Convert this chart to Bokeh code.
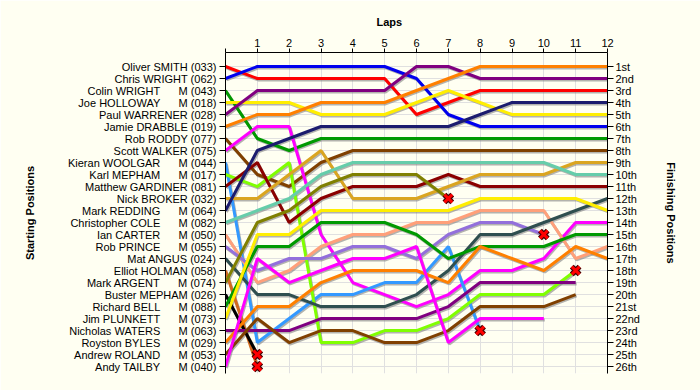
from bokeh.plotting import figure
from bokeh.models import FixedTicker, LinearAxis, Range1d, Title
from bokeh.embed import file_html
from bokeh.resources import INLINE

# ---------------- data ----------------
names = ["Oliver SMITH", "Chris WRIGHT", "Colin WRIGHT", "Joe HOLLOWAY", "Paul WARRENER",
         "Jamie DRABBLE", "Rob RODDY", "Scott WALKER", "Kieran WOOLGAR", "Karl MEPHAM",
         "Matthew GARDINER", "Nick BROKER", "Mark REDDING", "Christopher COLE", "Ian CARTER",
         "Rob PRINCE", "Mat ANGUS", "Elliot HOLMAN", "Mark ARGENT", "Buster MEPHAM",
         "Richard BELL", "Jim PLUNKETT", "Nicholas WATERS", "Royston BYLES", "Andrew ROLAND",
         "Andy TAILBY"]
car_numbers = ["033", "062", "043", "018", "028", "019", "077", "075", "044", "017",
               "081", "032", "064", "082", "050", "055", "024", "058", "074", "026",
               "088", "073", "063", "029", "053", "040"]
m_class = [False, False, True, True, False, False, False, False, True, True,
           False, False, True, True, True, True, False, False, True, False,
           True, True, True, True, True, True]

# position of each driver at lap 0, 1, 2, ... (last value = last lap completed / retirement)
positions = [
    [1, 2, 2, 2, 2, 2, 5, 4, 3, 3, 3, 3, 3],
    [2, 1, 1, 1, 1, 1, 2, 5, 6, 6, 6, 6, 6],
    [3, 7, 8, 7, 7, 7, 7, 7, 7, 7, 7, 7, 7],
    [4, 4, 4, 5, 5, 5, 4, 3, 4, 5, 5, 5, 5],
    [5, 3, 3, 3, 3, 3, 1, 1, 2, 2, 2, 2, 2],
    [6, 5, 5, 4, 4, 4, 3, 2, 1, 1, 1, 1, 1],
    [7, 10, 11, 9, 8, 8, 8, 8, 8, 8, 8, 8, 8],
    [8, 6, 6, 15, 19, 20, 21, 20, 18, 18, 17, 14, 14],
    [9, 24, 22, 20, 20, 19, 19, 16, 23],
    [10, 11, 9, 24, 24, 23, 23, 22, 20, 20, 20, 18],
    [11, 9, 14, 12, 11, 11, 11, 10, 11, 11, 11, 11, 11],
    [12, 12, 10, 8, 12, 12, 12, 11, 10, 10, 10, 9, 9],
    [13, 8, 7, 6, 6, 6, 6, 6, 5, 4, 4, 4, 4],
    [14, 13, 12, 10, 9, 9, 9, 9, 9, 9, 9, 10, 10],
    [15, 19, 18, 16, 15, 15, 14, 14, 13, 13, 13, 17, 16],
    [16, 18, 17, 17, 16, 16, 17, 15, 14, 14, 15],
    [17, 20, 20, 21, 21, 21, 20, 18, 15, 15, 14, 13, 12],
    [18, 26],
    [19, 14, 13, 11, 10, 10, 10, 12],
    [20, 25],
    [21, 16, 16, 14, 14, 14, 15, 17, 16, 16, 16, 15, 15],
    [22, 15, 15, 13, 13, 13, 13, 13, 12, 12, 12, 12, 13],
    [23, 23, 23, 22, 22, 22, 22, 21, 19, 19, 19, 19],
    [24, 21, 21, 19, 18, 18, 18, 19, 16, 17, 18, 16, 17],
    [25, 22, 24, 23, 23, 24, 24, 23, 21, 21, 21, 20],
    [26, 17, 19, 18, 17, 17, 16, 24, 22, 22, 22],
]
retired = [False, False, False, False, False, False, False, False, True, True,
           False, False, False, False, False, True, False, True, True, True,
           False, False, False, False, False, False]

colors = ["#FF0000", "#0000EE", "#009900", "#FFEE00", "#800080", "#FF8000", "#804000",
          "#FF00FF", "#3399FF", "#80FF00", "#8B0000", "#DAA520", "#1C1C6E", "#66CDAA",
          "#FFA07A", "#9370DB", "#2F4F4F", "#D2691E", "#808000", "#000000",
          "#009900", "#FFEE00", "#800080", "#FF8000", "#804000", "#FF00FF"]

lap_ticks = [0, 1, 2, 3, 4, 5, 6, 7, 8, 9, 10, 11, 12]
finishing_labels = ["1st", "2nd", "3rd", "4th", "5th", "6th", "7th", "8th", "9th", "10th",
                    "11th", "12th", "13th", "14th", "15th", "16th", "17th", "18th", "19th",
                    "20th", "21st", "22nd", "23rd", "24th", "25th", "26th"]

# ---------------- styling ----------------
BG = "#FFFFF2"
FONT = "Liberation Sans"
GAP = "\u00a0" * 6
start_labels = [(n + GAP + "M (" + c + ")") if m else (n + " (" + c + ")")
                for n, c, m in zip(names, car_numbers, m_class)]
rows = list(range(1, len(names) + 1))

p = figure(width=700, height=390, output_backend="svg", toolbar_location=None,
           x_range=Range1d(0, 12), y_range=Range1d(26.58, -0.1667),
           x_axis_location="above", y_axis_location="left",
           min_border_left=225, min_border_right=93, min_border_top=52, min_border_bottom=17,
           background_fill_color=BG, border_fill_color=BG, outline_line_color=None)

# top axis (laps)
xa = p.xaxis[0]
xa.ticker = FixedTicker(ticks=lap_ticks)
xa.major_label_overrides = {0: ""}
xa.major_tick_in = 0
xa.major_tick_out = 4
xa.minor_tick_line_color = None
xa.major_label_standoff = 2
xa.major_label_text_font = FONT
xa.major_label_text_font_size = "11px"
xa.major_label_text_color = "black"
xa.axis_line_color = "black"

# left axis (starting positions)
ya = p.yaxis[0]
ya.ticker = FixedTicker(ticks=rows)
ya.major_label_overrides = {r: lab for r, lab in zip(rows, start_labels)}
ya.major_tick_in = 0
ya.major_tick_out = 6
ya.minor_tick_line_color = None
ya.major_label_standoff = 3
ya.major_label_text_font = FONT
ya.major_label_text_font_size = "11px"
ya.major_label_text_color = "black"
ya.axis_label = "Starting Positions"
ya.axis_label_standoff = 29
ya.axis_label_text_font = FONT
ya.axis_label_text_font_size = "11px"
ya.axis_label_text_font_style = "bold"
ya.axis_label_text_color = "black"

# right axis (finishing positions)
ra = LinearAxis(ticker=FixedTicker(ticks=rows),
                major_label_overrides={r: lab for r, lab in zip(rows, finishing_labels)})
ra.major_tick_in = 0
ra.major_tick_out = 6
ra.minor_tick_line_color = None
ra.major_label_standoff = 2
ra.major_label_text_font = FONT
ra.major_label_text_font_size = "11px"
ra.major_label_text_color = "black"
ra.axis_label = "Finishing Positions"
ra.axis_label_standoff = 22
ra.axis_label_text_font = FONT
ra.axis_label_text_font_size = "11px"
ra.axis_label_text_font_style = "bold"
ra.axis_label_text_color = "black"
p.add_layout(ra, "right")

# "Laps" title above the lap axis
p.add_layout(Title(text="Laps", align="left", offset=151, standoff=16, text_font=FONT,
                   text_font_size="11px", text_font_style="bold", text_color="black"),
             "above")

p.xgrid.ticker = FixedTicker(ticks=lap_ticks)
p.ygrid.ticker = FixedTicker(ticks=rows)
p.xgrid.grid_line_color = "#E0E0E0"
p.ygrid.grid_line_color = "#E0E0E0"

# shadows
for pos in positions:
    laps = list(range(len(pos)))
    p.line([x + 0.03 for x in laps], [y + 0.12 for y in pos],
           line_color="#808080", line_width=3, line_alpha=0.6)
# lines
for pos, col in zip(positions, colors):
    laps = list(range(len(pos)))
    p.line(laps, pos, line_color=col, line_width=3)

# retirement markers
rx = [len(pos) - 1 for pos, r in zip(positions, retired) if r]
ry = [pos[-1] for pos, r in zip(positions, retired) if r]
p.scatter(rx, ry, marker="x", size=11, line_color="#400000", line_width=5.5)
p.scatter(rx, ry, marker="x", size=11, line_color="#FF0000", line_width=3)

html = file_html(p, INLINE)
html = html.replace("<body>", '<body style="background-color:%s;">' % BG, 1)
open("out.html", "w").write(html)
